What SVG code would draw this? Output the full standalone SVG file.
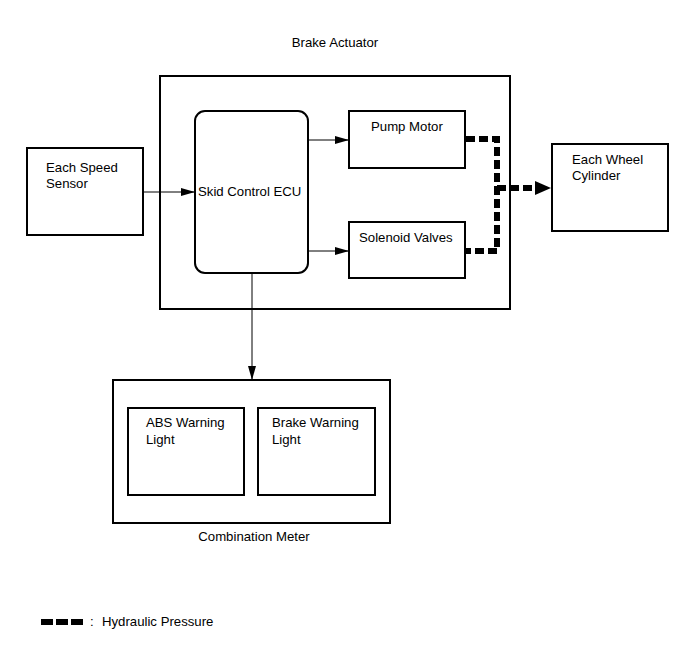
<svg xmlns="http://www.w3.org/2000/svg" width="690" height="659" viewBox="0 0 690 659">
<defs>
<style>
.box{fill:#fff;stroke:#000;stroke-width:2}
.t{font-family:"Liberation Sans",Arial,sans-serif;font-size:13.2px;fill:#000}
.ln{stroke:#000;stroke-width:1;fill:none}
.hyd{stroke:#000;stroke-width:6;fill:none;stroke-dasharray:9 4}
</style>
<marker id="ah" viewBox="0 0 14 8" refX="14" refY="4" markerWidth="14" markerHeight="8" markerUnits="userSpaceOnUse" orient="auto">
<path d="M0,0 L14,4 L0,8 z" fill="#000"/>
</marker>
</defs>
<rect width="690" height="659" fill="#fff"/>
<g id="brake-actuator">
<rect class="box" x="160" y="76" width="350" height="233"/>
<text class="t" x="335" y="47" text-anchor="middle">Brake Actuator</text>
</g>
<g id="speed-sensor">
<rect class="box" x="27" y="148" width="116" height="87"/>
<text class="t" x="46" y="172">Each Speed</text>
<text class="t" x="46" y="188">Sensor</text>
</g>
<g id="ecu">
<rect class="box" x="195" y="111" width="113" height="162" rx="10" ry="10"/>
<text class="t" x="198" y="196">Skid Control ECU</text>
</g>
<g id="pump-motor">
<rect class="box" x="349" y="111" width="116" height="57"/>
<text class="t" x="371" y="131">Pump Motor</text>
</g>
<g id="solenoid-valves">
<rect class="box" x="349" y="222" width="116" height="56"/>
<text class="t" x="359" y="242">Solenoid Valves</text>
</g>
<g id="wheel-cylinder">
<rect class="box" x="552" y="144" width="116" height="87"/>
<text class="t" x="572" y="164">Each Wheel</text>
<text class="t" x="572" y="180">Cylinder</text>
</g>
<g id="combination-meter">
<rect class="box" x="113" y="380" width="277" height="143"/>
<text class="t" x="254" y="541" text-anchor="middle">Combination Meter</text>
</g>
<g id="abs-light">
<rect class="box" x="128" y="408" width="116" height="87"/>
<text class="t" x="146" y="427">ABS Warning</text>
<text class="t" x="146" y="444">Light</text>
</g>
<g id="brake-light">
<rect class="box" x="258" y="408" width="117" height="87"/>
<text class="t" x="272" y="427">Brake Warning</text>
<text class="t" x="272" y="444">Light</text>
</g>
<g id="connectors">
<line class="ln" x1="143" y1="192" x2="195" y2="192" marker-end="url(#ah)"/>
<line class="ln" x1="308" y1="140" x2="349" y2="140" marker-end="url(#ah)"/>
<line class="ln" x1="308" y1="251" x2="349" y2="251" marker-end="url(#ah)"/>
<line class="ln" x1="252" y1="273" x2="252" y2="380" marker-end="url(#ah)"/>
<path class="hyd" d="M466,139 H497 V251 H466"/>
<path class="hyd" d="M497,188 H536"/>
<polygon points="535,181 551,188 535,195" fill="#000"/>
</g>
<g id="legend">
<rect x="41" y="619" width="12" height="6" fill="#000"/>
<rect x="56" y="619" width="12" height="6" fill="#000"/>
<rect x="71" y="619" width="12" height="6" fill="#000"/>
<text class="t" x="90" y="626">:</text>
<text class="t" x="102" y="626">Hydraulic Pressure</text>
</g>
</svg>
